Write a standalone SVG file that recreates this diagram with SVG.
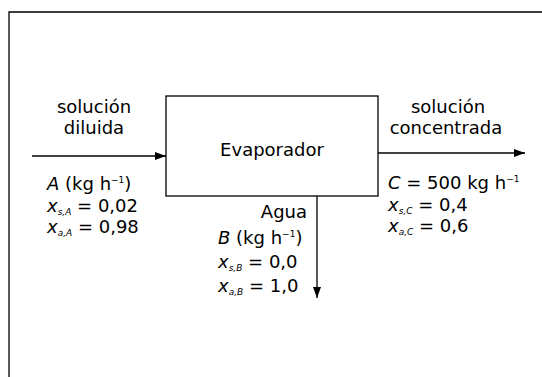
<svg xmlns="http://www.w3.org/2000/svg" width="542" height="377" viewBox="0 0 542 377">
<style>
text{font-family:"DejaVu Sans","Liberation Sans",sans-serif;font-size:18px;fill:#000}
.i{font-style:italic}
.sub{font-size:9px;font-style:italic}
.sup{font-size:9px}
.ln{stroke:#000;stroke-width:1.3;fill:none}
.bx{stroke:#000;stroke-width:1.3;fill:#fff}
</style>
<defs>
<marker id="ah" viewBox="0 0 11 8" refX="11" refY="4" markerWidth="11" markerHeight="8" markerUnits="userSpaceOnUse" orient="auto">
<path d="M0,0 L11,4 L0,8 Z" fill="#000"/>
</marker>
</defs>
<g id="frame">
<path class="ln" d="M9,377 L9,12 L542,12"/>
</g>
<g id="connectors">
<path class="ln" d="M32,156 L166,156" marker-end="url(#ah)"/>
<path class="ln" d="M378,153 L525,153" marker-end="url(#ah)"/>
<path class="ln" d="M317,196 L317,298" marker-end="url(#ah)"/>
</g>
<g id="evaporador">
<rect class="bx" x="166" y="96" width="212" height="100"/>
<text x="272" y="156" text-anchor="middle">Evaporador</text>
</g>
<g id="feed-label">
<text x="94" y="113" text-anchor="middle">solución</text>
<text x="94" y="134" text-anchor="middle">diluida</text>
<text x="47" y="190"><tspan class="i">A</tspan> (kg h<tspan class="sup" dy="-7">−1</tspan><tspan dy="7">)</tspan></text>
<text x="47" y="212"><tspan class="i">x</tspan><tspan class="sub" dy="3">s,A</tspan><tspan dy="-3"> = 0,02</tspan></text>
<text x="47" y="233"><tspan class="i">x</tspan><tspan class="sub" dy="3">a,A</tspan><tspan dy="-3"> = 0,98</tspan></text>
</g>
<g id="product-label">
<text x="448" y="113" text-anchor="middle">solución</text>
<text x="446" y="134" text-anchor="middle">concentrada</text>
<text x="388" y="189"><tspan class="i">C</tspan> = 500 kg h<tspan class="sup" dy="-7">−1</tspan></text>
<text x="388" y="211"><tspan class="i">x</tspan><tspan class="sub" dy="3">s,C</tspan><tspan dy="-3"> = 0,4</tspan></text>
<text x="388" y="232"><tspan class="i">x</tspan><tspan class="sub" dy="3">a,C</tspan><tspan dy="-3"> = 0,6</tspan></text>
</g>
<g id="water-label">
<text x="307" y="218" text-anchor="end">Agua</text>
<text x="218" y="244"><tspan class="i">B</tspan> (kg h<tspan class="sup" dy="-7">−1</tspan><tspan dy="7">)</tspan></text>
<text x="218" y="268"><tspan class="i">x</tspan><tspan class="sub" dy="3">s,B</tspan><tspan dy="-3"> = 0,0</tspan></text>
<text x="218" y="292"><tspan class="i">x</tspan><tspan class="sub" dy="3">a,B</tspan><tspan dy="-3"> = 1,0</tspan></text>
</g>
</svg>
